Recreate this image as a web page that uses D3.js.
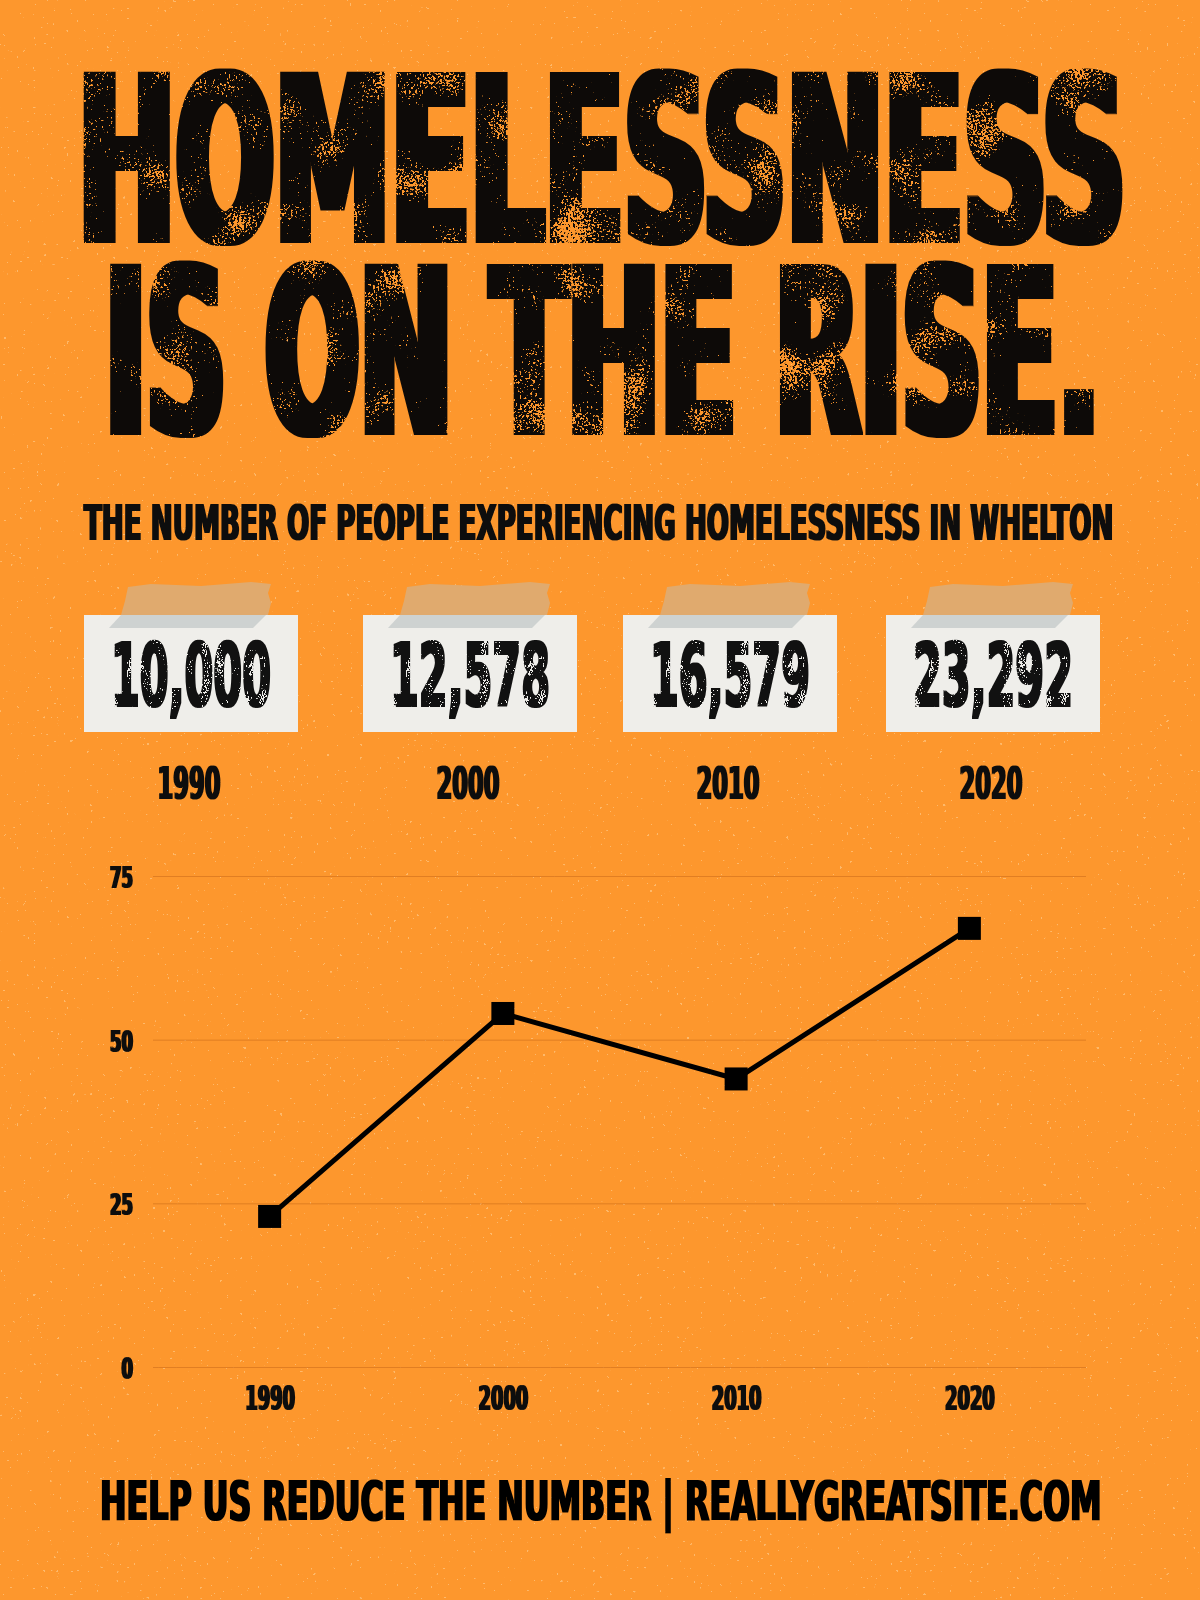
<!DOCTYPE html>
<html><head><meta charset="utf-8">
<script src="https://cdn.jsdelivr.net/npm/d3@7"></script>
<style>html,body{margin:0;padding:0;background:#fd972d;} svg{display:block}</style>
</head><body>
<svg id="c" width="1200" height="1600"></svg>
<script>
// ---- data ----
const years = ["1990", "2000", "2010", "2020"];
const peopleCounts = ["10,000", "12,578", "16,579", "23,292"];
const indexValues = [23, 54, 44, 67];
const yTicks = [0, 25, 50, 75];
const titleLines = ["HOMELESSNESS", "IS ON THE RISE."];
const subtitleText = "THE NUMBER OF PEOPLE EXPERIENCING HOMELESSNESS IN WHELTON";
const footerText = "HELP US REDUCE THE NUMBER | REALLYGREATSITE.COM";

// ---- setup ----
const FONT = "'DejaVu Sans', 'Liberation Sans', sans-serif";
const BG = "#fd972d";
const svg = d3.select("#c");
const defs = svg.append("defs");

// squeeze a text horizontally to a target width, anchored at (ax, ay)
function fit(sel, ax, ay, width) {
  sel.each(function (d, i) {
    const t = d3.select(this).attr("x", 0).attr("y", 0).attr("dy", null);
    const len = this.getComputedTextLength();
    const X = typeof ax === "function" ? ax(d, i) : ax;
    const Y = typeof ay === "function" ? ay(d, i) : ay;
    const W = typeof width === "function" ? width(d, i) : width;
    t.attr("transform", `translate(${X},${Y}) scale(${W / len},1)`);
  });
}

// grunge: dilate glyphs, then punch small speck holes clustered by a low-frequency noise
function grunge(id, dil, hiFreq, loFreq, thr, seed) {
  const f = defs.append("filter").attr("id", id)
    .attr("x", "-3%").attr("y", "-10%").attr("width", "106%").attr("height", "120%")
    .attr("color-interpolation-filters", "sRGB");
  f.append("feMorphology").attr("in", "SourceGraphic").attr("operator", "dilate").attr("radius", dil).attr("result", "fat");
  f.append("feTurbulence").attr("type", "fractalNoise").attr("baseFrequency", hiFreq)
    .attr("numOctaves", 2).attr("seed", seed).attr("result", "hi0");
  f.append("feColorMatrix").attr("in", "hi0").attr("type", "matrix")
    .attr("values", "1 0 0 0 0  1 0 0 0 0  1 0 0 0 0  0 0 0 0 1").attr("result", "hi");
  f.append("feTurbulence").attr("type", "fractalNoise").attr("baseFrequency", loFreq)
    .attr("numOctaves", 2).attr("seed", seed + 7).attr("result", "lo0");
  f.append("feColorMatrix").attr("in", "lo0").attr("type", "matrix")
    .attr("values", "1 0 0 0 0  1 0 0 0 0  1 0 0 0 0  0 0 0 0 1").attr("result", "lo");
  f.append("feComposite").attr("in", "hi").attr("in2", "lo").attr("operator", "arithmetic")
    .attr("k1", 0).attr("k2", 0.5).attr("k3", 0.5).attr("k4", 0).attr("result", "sum");
  f.append("feColorMatrix").attr("in", "sum").attr("type", "matrix")
    .attr("values", `0 0 0 0 0  0 0 0 0 0  0 0 0 0 0  -40 0 0 0 ${thr}`).attr("result", "mask");
  f.append("feComposite").attr("in", "fat").attr("in2", "mask").attr("operator", "in");
}
grunge("gTitle", "5 1", "0.45", "0.02", 25.7, 4);
grunge("gNum", "2 0.5", "0.5", "0.04", 25.2, 9);
const fFat = defs.append("filter").attr("id", "fat").attr("x", "-5%").attr("y", "-20%").attr("width", "110%").attr("height", "140%");
fFat.append("feMorphology").attr("operator", "dilate").attr("radius", "1 0.2");
const fFatY = defs.append("filter").attr("id", "fatY").attr("x", "-5%").attr("y", "-20%").attr("width", "110%").attr("height", "140%");
fFatY.append("feMorphology").attr("operator", "dilate").attr("radius", "1.4 0.3");
const fFatS = defs.append("filter").attr("id", "fatS").attr("x", "-5%").attr("y", "-20%").attr("width", "110%").attr("height", "140%");
fFatS.append("feMorphology").attr("operator", "dilate").attr("radius", "1 0.2");

// speckle texture on background
const fSp = defs.append("filter").attr("id", "speck").attr("x", 0).attr("y", 0).attr("width", "100%").attr("height", "100%")
  .attr("color-interpolation-filters", "sRGB");
fSp.append("feTurbulence").attr("type", "fractalNoise").attr("baseFrequency", "0.3").attr("numOctaves", 2).attr("seed", 21).attr("result", "n");
fSp.append("feColorMatrix").attr("in", "n").attr("type", "matrix")
  .attr("values", "0 0 0 0 1  0 0 0 0 0.86  0 0 0 0 0.66  0 40 0 0 -30.5");

svg.append("rect").attr("width", 1200).attr("height", 1600).attr("fill", BG);
svg.append("rect").attr("width", 1200).attr("height", 1600).attr("filter", "url(#speck)").attr("opacity", 0.5);

// ---- title ----
const titleLayout = [{x: 78, y: 242, w: 1048}, {x: 105, y: 434, w: 995}];
svg.append("g").attr("filter", "url(#gTitle)")
  .selectAll("text").data(titleLines).join("text")
  .attr("font-family", FONT).attr("font-weight", "bold").attr("font-size", 232)
  .attr("fill", "#0d0a08")
  .text(d => d)
  .call(fit, (d, i) => titleLayout[i].x, (d, i) => titleLayout[i].y, (d, i) => titleLayout[i].w);

// ---- subtitle ----
svg.append("text")
  .attr("font-family", FONT).attr("font-weight", "bold").attr("font-size", 49)
  .attr("fill", "#111").attr("filter", "url(#fat)")
  .text(subtitleText)
  .call(fit, 84, 540, 1030);

// ---- cards ----
const cardX = d3.scaleOrdinal().domain(years).range([191, 470, 730, 993]);
const cardW = 214, cardH = 117, cardY = 615;
const cards = svg.append("g").selectAll("g").data(years).join("g")
  .attr("transform", d => `translate(${cardX(d)},0)`);
cards.append("rect").attr("x", -cardW / 2).attr("y", cardY).attr("width", cardW).attr("height", cardH)
  .attr("fill", "#efeeea");
// tape
cards.append("path")
  .attr("d", `M${-63},${cardY - 28} L${-40},${cardY - 31} L${10},${cardY - 29} L${60},${cardY - 33} L${80},${cardY - 31}
              L${77},${cardY - 22} L${80},${cardY - 12} L${77},${cardY} L${-70},${cardY} L${-66},${cardY - 14} Z`)
  .attr("fill", "#e0aa6e");
cards.append("path")
  .attr("d", `M${-70},${cardY} L${75},${cardY} L${62},${cardY + 13} L${-82},${cardY + 13} Z`)
  .attr("fill", "#c6cbca").attr("opacity", 0.8);
// numbers
cards.append("text")
  .attr("text-anchor", "middle")
  .attr("font-family", FONT).attr("font-weight", "bold").attr("font-size", 87)
  .attr("fill", "#111").attr("filter", "url(#gNum)")
  .text((d, i) => peopleCounts[i])
  .call(fit, 0, 706, 160);
// years
cards.append("text")
  .attr("text-anchor", "middle")
  .attr("font-family", FONT).attr("font-weight", "bold").attr("font-size", 44)
  .attr("fill", "#111").attr("filter", "url(#fatY)")
  .text(d => d)
  .call(fit, -2, 799, 63);

// ---- line chart ----
const plotL = 153, plotR = 1086, y0 = 1367, y75 = 876;
const x = d3.scalePoint().domain(years).range([plotL, plotR]).padding(0.5);
const y = d3.scaleLinear().domain([0, 75]).range([y0, y75]);

const yAxis = svg.append("g").attr("transform", `translate(${plotL},0)`)
  .call(d3.axisLeft(y).tickValues(yTicks).tickSize(-(plotR - plotL)).tickPadding(20));
yAxis.select(".domain").remove();
yAxis.selectAll(".tick line").attr("stroke", "#d9781f").attr("stroke-opacity", 0.8).attr("stroke-width", 1);
yAxis.selectAll(".tick text")
  .attr("font-family", FONT).attr("font-weight", "bold").attr("font-size", 31).attr("fill", "#111")
  .attr("filter", "url(#fatS)")
  .call(fit, -20, 11.5, d => String(d).length * 11.5);

const xAxis = svg.append("g").attr("transform", `translate(0,${y0})`)
  .call(d3.axisBottom(x).tickSize(0));
xAxis.select(".domain").remove();
xAxis.selectAll(".tick text")
  .attr("font-family", FONT).attr("font-weight", "bold").attr("font-size", 33).attr("fill", "#111")
  .attr("filter", "url(#fatS)")
  .call(fit, 0, 43, 50);

const pts = years.map((d, i) => ({year: d, v: indexValues[i]}));
svg.append("path").datum(pts)
  .attr("d", d3.line().x(d => x(d.year)).y(d => y(d.v)))
  .attr("fill", "none").attr("stroke", "#000").attr("stroke-width", 5).attr("stroke-linejoin", "miter");
svg.append("g").selectAll("rect").data(pts).join("rect")
  .attr("x", d => x(d.year) - 11.5).attr("y", d => y(d.v) - 11.5)
  .attr("width", 23).attr("height", 23).attr("fill", "#000");

// ---- footer ----
svg.append("text")
  .attr("font-family", FONT).attr("font-weight", "bold").attr("font-size", 55)
  .attr("fill", "#000").attr("filter", "url(#fat)")
  .text(footerText)
  .call(fit, 100, 1520, 1002);
</script>
</body></html>
